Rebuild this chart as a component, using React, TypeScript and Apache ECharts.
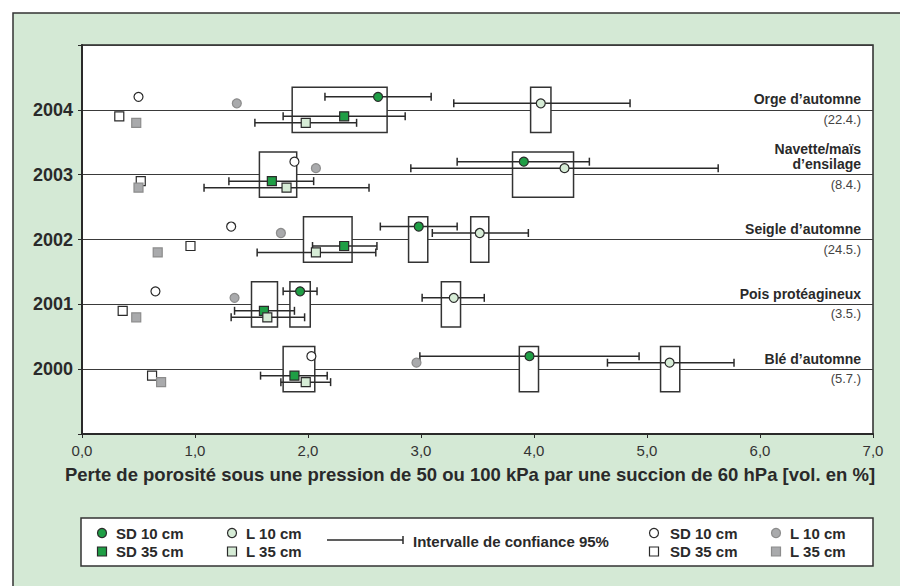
import React, { useEffect, useRef } from "react";
import * as echarts from "echarts";

const years = [2000, 2001, 2002, 2003, 2004];

// First set (coloured markers, with 95% confidence intervals)
const sd10 = [3.96, 1.93, 2.98, 3.91, 2.62];
const sd10Lo = [2.99, 1.78, 2.64, 3.32, 2.15];
const sd10Hi = [4.93, 2.08, 3.32, 4.49, 3.09];
const sd35 = [1.88, 1.61, 2.32, 1.68, 2.32];
const sd35Lo = [1.58, 1.35, 2.04, 1.30, 1.78];
const sd35Hi = [2.17, 1.88, 2.61, 2.05, 2.86];
const l10 = [5.20, 3.29, 3.52, 4.27, 4.06];
const l10Lo = [4.65, 3.01, 3.10, 2.91, 3.29];
const l10Hi = [5.77, 3.56, 3.95, 5.63, 4.85];
const l35 = [1.98, 1.64, 2.07, 1.81, 1.98];
const l35Lo = [1.76, 1.32, 1.55, 1.08, 1.53];
const l35Hi = [2.20, 1.97, 2.60, 2.54, 2.43];

// Second set (white / grey markers, no intervals)
const sd10b = [2.03, 0.65, 1.32, 1.88, 0.50];
const sd35b = [0.62, 0.36, 0.96, 0.52, 0.33];
const l10b = [2.96, 1.35, 1.76, 2.07, 1.37];
const l35b = [0.70, 0.48, 0.67, 0.50, 0.48];

// Grouping boxes: [year, from, to]
const boxes: number[][] = [
  [2004, 1.86, 2.70], [2004, 3.97, 4.15],
  [2003, 1.57, 1.90], [2003, 3.81, 4.35],
  [2002, 1.96, 2.39], [2002, 2.89, 3.06], [2002, 3.44, 3.60],
  [2001, 1.50, 1.73], [2001, 1.84, 2.02], [2001, 3.18, 3.35],
  [2000, 1.78, 2.06], [2000, 3.87, 4.04], [2000, 5.12, 5.29],
];

const crops = ["Blé d’automne", "Pois protéagineux", "Seigle d’automne", "Navette/maïs\nd’ensilage", "Orge d’automne"];
const sowingDates = ["(5.7.)", "(3.5.)", "(24.5.)", "(8.4.)", "(22.4.)"];

const xTicks = ["0,0", "1,0", "2,0", "3,0", "4,0", "5,0", "6,0", "7,0"];
const xTitle = "Perte de porosité sous une pression de 50 ou 100 kPa par une succion de 60 hPa [vol. en %]";

const FONT = "'Liberation Sans', Arial, Helvetica, sans-serif";
const GREEN = "#1f9e45";
const LIGHT = "#d6ecd6";
const GREY = "#a9aaac";
const DARK = "#2a2a2a";

const OFF_SD10 = 0.2;
const OFF_L10 = 0.1;
const OFF_SD35 = -0.1;
const OFF_L35 = -0.2;

function pts(vals: number[], off: number) {
  return years.map((y, i) => [vals[i], y + off]);
}
function errs(vals: number[], lo: number[], hi: number[], off: number) {
  return years.map((y, i) => [vals[i], y + off, lo[i], hi[i]]);
}

export default function App() {
  const ref = useRef<HTMLDivElement>(null);
  useEffect(() => {
    document.body.style.margin = "0";
    const chart = echarts.init(ref.current!, undefined, { renderer: "svg" });

    const errData = [
      ...errs(sd10, sd10Lo, sd10Hi, OFF_SD10),
      ...errs(sd35, sd35Lo, sd35Hi, OFF_SD35),
      ...errs(l10, l10Lo, l10Hi, OFF_L10),
      ...errs(l35, l35Lo, l35Hi, OFF_L35),
    ];

    const scatter = (name: string, data: number[][], symbol: string, fill: string, border: string, z: number) => ({
      name,
      type: "scatter",
      data,
      symbol,
      symbolSize: 9,
      itemStyle: { color: fill, borderColor: border, borderWidth: 1.2, opacity: 1 },
      z,
      silent: true,
    });

    const legendX = 81, legendY = 518;
    const row1 = 533, row2 = 551.5;
    const legendText = (text: string, x: number, y: number) => ({
      type: "text",
      x, y,
      style: { text, fill: DARK, fontFamily: FONT, fontWeight: "bold", fontSize: 15, verticalAlign: "middle", align: "left" },
    });
    const legCircle = (cx: number, cy: number, fill: string, stroke: string) => ({
      type: "circle", shape: { cx, cy, r: 4.5 }, style: { fill, stroke, lineWidth: 1.2 },
    });
    const legRect = (cx: number, cy: number, fill: string, stroke: string) => ({
      type: "rect", shape: { x: cx - 4.5, y: cy - 4.5, width: 9, height: 9 }, style: { fill, stroke, lineWidth: 1.2 },
    });

    const option: any = {
      animation: false,
      backgroundColor: "#ffffff",
      textStyle: { fontFamily: FONT },
      grid: {
        left: 82, top: 45, width: 791, height: 389,
        show: true, backgroundColor: "#ffffff", borderColor: DARK, borderWidth: 1.5,
      },
      xAxis: {
        type: "value", min: 0, max: 7, interval: 1,
        axisLine: { show: true, lineStyle: { color: DARK, width: 2 } },
        axisTick: { show: true, length: 4, lineStyle: { color: DARK } },
        axisLabel: {
          margin: 9, color: "#333", fontSize: 15, fontFamily: FONT,
          formatter: (v: number) => xTicks[Math.round(v)] ?? "",
        },
        splitLine: { show: false },
        name: xTitle,
        nameLocation: "middle",
        nameGap: 31,
        nameTextStyle: { color: DARK, fontSize: 18.5, fontWeight: "bold", fontFamily: FONT, padding: [0, 15, 0, 0] },
      },
      yAxis: {
        type: "value", min: 1999, max: 2005, interval: 1,
        axisLine: { show: true, lineStyle: { color: DARK, width: 2 } },
        axisTick: { show: true, length: 4, lineStyle: { color: DARK } },
        axisLabel: {
          margin: 9, color: DARK, fontSize: 18, fontWeight: "bold", fontFamily: FONT,
          formatter: (v: number) => (years.includes(v) ? String(v) : ""),
        },
        splitLine: { show: true, lineStyle: { color: "#3a3a3a", width: 1.2 } },
      },
      graphic: [
        {
          type: "rect", z: -100,
          shape: { x: 13, y: 13, width: 900, height: 600 },
          style: { fill: "#d4e9d5", stroke: "#333", lineWidth: 1.5 },
        },
        {
          type: "group",
          children: [
            { type: "rect", shape: { x: legendX, y: legendY, width: 792, height: 48 }, style: { fill: "#fff", stroke: "#333", lineWidth: 1.5 } },
            legCircle(102, row1, GREEN, DARK),
            legRect(102, row2, GREEN, DARK),
            legendText("SD 10 cm", 116, row1),
            legendText("SD 35 cm", 116, row2),
            legCircle(232, row1, LIGHT, DARK),
            legRect(232, row2, LIGHT, DARK),
            legendText("L 10 cm", 246, row1),
            legendText("L 35 cm", 246, row2),
            { type: "line", shape: { x1: 327, y1: 540, x2: 403, y2: 540 }, style: { stroke: DARK, lineWidth: 1.5 } },
            { type: "line", shape: { x1: 403, y1: 536, x2: 403, y2: 544 }, style: { stroke: DARK, lineWidth: 1.5 } },
            legendText("Intervalle de confiance 95%", 413, 541),
            legCircle(654, row1, "#fff", DARK),
            legRect(654, row2, "#fff", DARK),
            legendText("SD 10 cm", 670, row1),
            legendText("SD 35 cm", 670, row2),
            legCircle(776, row1, GREY, "#8c8c8c"),
            legRect(776, row2, GREY, "#8c8c8c"),
            legendText("L 10 cm", 790, row1),
            legendText("L 35 cm", 790, row2),
          ],
        },
      ],
      series: [
        {
          name: "boxes",
          type: "custom",
          z: 3,
          silent: true,
          data: boxes,
          encode: { x: [1, 2], y: 0 },
          renderItem: (_p: any, api: any) => {
            const yr = api.value(0);
            const a = api.coord([api.value(1), yr + 0.35]);
            const b = api.coord([api.value(2), yr - 0.35]);
            return {
              type: "rect",
              shape: { x: a[0], y: a[1], width: b[0] - a[0], height: b[1] - a[1] },
              style: { fill: "#ffffff", stroke: "#333", lineWidth: 1.5 },
            };
          },
        },
        {
          name: "labels",
          type: "custom",
          z: 3,
          silent: true,
          data: years.map((y, i) => [7, y, i]),
          renderItem: (_p: any, api: any) => {
            const i = api.value(2);
            const p = api.coord([api.value(0), api.value(1)]);
            return {
              type: "group",
              children: [
                {
                  type: "text", x: p[0] - 12, y: p[1] - 3,
                  style: {
                    text: crops[i], fill: DARK, fontFamily: FONT, fontWeight: "bold", fontSize: 14,
                    align: "right", verticalAlign: "bottom", lineHeight: 15,
                  },
                },
                {
                  type: "text", x: p[0] - 12, y: p[1] + 9.5,
                  style: {
                    text: sowingDates[i], fill: "#444", fontFamily: FONT, fontSize: 13,
                    align: "right", verticalAlign: "middle",
                  },
                },
              ],
            };
          },
        },
        {
          name: "ci",
          type: "custom",
          z: 4,
          silent: true,
          data: errData,
          encode: { x: [2, 3], y: 1 },
          renderItem: (_p: any, api: any) => {
            const y = api.value(1);
            const a = api.coord([api.value(2), y]);
            const b = api.coord([api.value(3), y]);
            const st = { stroke: DARK, lineWidth: 1.5 };
            return {
              type: "group",
              children: [
                { type: "line", shape: { x1: a[0], y1: a[1], x2: b[0], y2: b[1] }, style: st },
                { type: "line", shape: { x1: a[0], y1: a[1] - 4, x2: a[0], y2: a[1] + 4 }, style: st },
                { type: "line", shape: { x1: b[0], y1: b[1] - 4, x2: b[0], y2: b[1] + 4 }, style: st },
              ],
            };
          },
        },
        scatter("SD 10 cm", pts(sd10, OFF_SD10), "circle", GREEN, DARK, 5),
        scatter("SD 35 cm", pts(sd35, OFF_SD35), "rect", GREEN, DARK, 5),
        scatter("L 10 cm", pts(l10, OFF_L10), "circle", LIGHT, DARK, 5),
        scatter("L 35 cm", pts(l35, OFF_L35), "rect", LIGHT, DARK, 5),
        scatter("SD 10 cm (b)", pts(sd10b, OFF_SD10), "circle", "#ffffff", DARK, 5),
        scatter("SD 35 cm (b)", pts(sd35b, OFF_SD35), "rect", "#ffffff", DARK, 5),
        scatter("L 10 cm (b)", pts(l10b, OFF_L10), "circle", GREY, "#8c8c8c", 5),
        scatter("L 35 cm (b)", pts(l35b, OFF_L35), "rect", GREY, "#8c8c8c", 5),
      ],
    };

    chart.setOption(option);
    return () => chart.dispose();
  }, []);

  return <div ref={ref} style={{ position: "fixed", left: 0, top: 0, width: 900, height: 586 }} />;
}
